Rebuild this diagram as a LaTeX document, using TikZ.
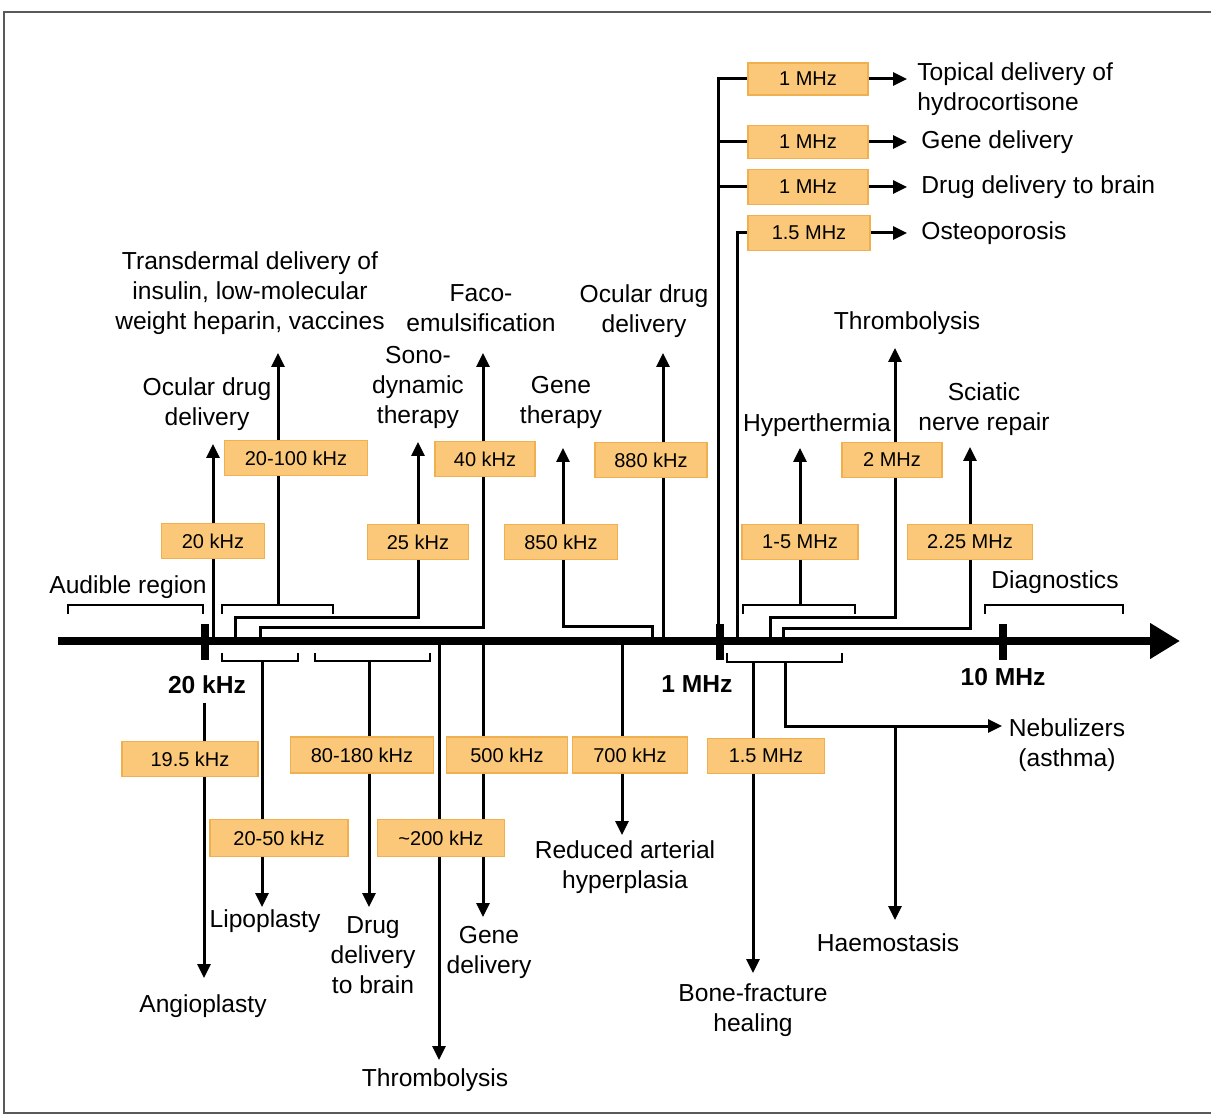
\documentclass[tikz,border=0pt]{standalone}
\usepackage{fontspec}
\setmainfont{Liberation Sans}
\usetikzlibrary{arrows.meta,calc}
\pgfdeclarelayer{bg}
\pgfsetlayers{bg,main}
\definecolor{boxfill}{HTML}{FAC878}
\definecolor{boxline}{HTML}{F0B050}
\begin{document}
\begin{tikzpicture}[x=0.5pt,y=-0.5pt,
  conn/.style={line width=1.5pt},
  arr/.style={conn,-{Triangle[width=6.5pt,length=7pt]}},
  brk/.style={line width=1.3pt},
  fbox/.style={draw=boxline,line width=0.8pt,fill=boxfill,font=\fontsize{10}{12}\selectfont,inner sep=0pt,minimum height=17.5pt},
  lbl/.style={font=\fontsize{12.3}{15}\selectfont,align=center,inner sep=0pt},
  axlbl/.style={font=\fontsize{12.3}{15}\selectfont\bfseries,inner sep=0pt},
  tick/.style={line width=4pt}
]
\useasboundingbox (0,0) rectangle (1211,1117);
\draw[line width=1pt,black!65] (1211,12) -- (4,12) -- (4,1113) -- (1211,1113);

% ---------- boxes ----------
\node[fbox,minimum width=51.5pt] (b1) at (213,541) {20 kHz};
\node[fbox,minimum width=71.5pt] (b2) at (296,458) {20-100 kHz};
\node[fbox,minimum width=50.5pt] (b3) at (418,542) {25 kHz};
\node[fbox,minimum width=50pt] (b4) at (485,459) {40 kHz};
\node[fbox,minimum width=56.5pt] (b5) at (561,542) {850 kHz};
\node[fbox,minimum width=56pt] (b6) at (651,460) {880 kHz};
\node[fbox,minimum width=58pt] (b7) at (800,542) {1-5 MHz};
\node[fbox,minimum width=50pt] (b8) at (892,460) {2 MHz};
\node[fbox,minimum width=62.5pt] (b9) at (970,542) {2.25 MHz};
\node[fbox,minimum width=60pt,minimum height=16pt] (b10) at (808,79) {1 MHz};
\node[fbox,minimum width=60pt,minimum height=16.5pt] (b11) at (808,142) {1 MHz};
\node[fbox,minimum width=60pt] (b12) at (808,187) {1 MHz};
\node[fbox,minimum width=61pt] (b13) at (809,233) {1.5 MHz};
\node[fbox,minimum width=68pt] (b14) at (190,759) {19.5 kHz};
\node[fbox,minimum width=69pt,minimum height=18.5pt] (b15) at (279,838) {20-50 kHz};
\node[fbox,minimum width=71.5pt,minimum height=18pt] (b16) at (362,755) {80-180 kHz};
\node[fbox,minimum width=63.5pt,minimum height=18.5pt] (b17) at (441,838) {\textasciitilde200 kHz};
\node[fbox,minimum width=60.5pt,minimum height=18pt] (b18) at (507,755) {500 kHz};
\node[fbox,minimum width=57.5pt,minimum height=18pt] (b19) at (630,755) {700 kHz};
\node[fbox,minimum width=58.5pt] (b20) at (766,756) {1.5 MHz};

% ---------- labels ----------
\node[lbl] (u1) at (207,404) {Ocular drug\\delivery};
\node[lbl] (u2) at (250,293) {Transdermal delivery of\\insulin, low-molecular\\weight heparin, vaccines};
\node[lbl] (u3) at (418,387) {Sono-\\dynamic\\therapy};
\node[lbl] (u4) at (481,308) {Faco-\\emulsification};
\node[lbl] (u5) at (561,402) {Gene\\therapy};
\node[lbl] (u6) at (644,311) {Ocular drug\\delivery};
\node[lbl] (u7) at (817,425) {Hyperthermia};
\node[lbl] (u8) at (907,323) {Thrombolysis};
\node[lbl] (u9) at (984,409) {Sciatic\\nerve repair};
\node[lbl] (aud) at (128,587) {Audible region};
\node[lbl] (diag) at (1055,582) {Diagnostics};
\node[lbl,align=left,anchor=west] (r1) at (917,89) {Topical delivery of\\hydrocortisone};
\node[lbl,anchor=west] (r2) at (921,142) {Gene delivery};
\node[lbl,anchor=west] (r3) at (921,187) {Drug delivery to brain};
\node[lbl,anchor=west] (r4) at (921,233) {Osteoporosis};
\node[lbl] (d1) at (203,1006) {Angioplasty};
\node[lbl] (d2) at (265,921) {Lipoplasty};
\node[lbl] (d3) at (373,955) {Drug\\delivery\\to brain};
\node[lbl] (d4) at (435,1080) {Thrombolysis};
\node[lbl] (d5) at (489,952) {Gene\\delivery};
\node[lbl] (d6) at (625,867) {Reduced arterial\\hyperplasia};
\node[lbl] (d7) at (753,1010) {Bone-fracture\\healing};
\node[lbl] (d8) at (1067,745) {Nebulizers\\(asthma)};
\node[lbl] (d9) at (888,943) {Haemostasis};
\node[axlbl] (k20) at (207,685) {20 kHz};
\node[axlbl] (m1) at (697,684) {1 MHz};
\node[axlbl] (m10) at (1003,677) {10 MHz};

% ---------- coordinates ----------
\coordinate (oU1) at (213,641); \coordinate (tU1) at (213,444);
\coordinate (oU2) at (278,605); \coordinate (tU2) at (278,353);
\coordinate (oU3) at (235,641); \coordinate (tU3) at (418,442);
\coordinate (oU4) at (260,641); \coordinate (tU4) at (483,353);
\coordinate (oU5) at (652,641); \coordinate (tU5) at (563,448);
\coordinate (oU6) at (663,641); \coordinate (tU6) at (663,353);
\coordinate (oU7) at (718,641);
\coordinate (oU8) at (737,641);
\coordinate (oU9) at (800,605); \coordinate (tU9) at (800,448);
\coordinate (oU10) at (770,641); \coordinate (tU10) at (895,348);
\coordinate (oU11) at (783,641); \coordinate (tU11) at (970,447);
\coordinate (oD1) at (204,703); \coordinate (tD1) at (204,978);
\coordinate (oD2) at (262,661); \coordinate (tD2) at (262,907);
\coordinate (oD3) at (369,661); \coordinate (tD3) at (369,907);
\coordinate (oD4) at (439,641); \coordinate (tD4) at (439,1060);
\coordinate (oD5) at (483,641); \coordinate (tD5) at (483,917);
\coordinate (oD6) at (622,641); \coordinate (tD6) at (622,835);
\coordinate (oD7) at (753,662); \coordinate (tD7) at (753,973);
\coordinate (oD8) at (785,662); \coordinate (tD8) at (1002,726);
\coordinate (jD9) at (895,726); \coordinate (tD9) at (895,920);

\begin{pgfonlayer}{bg}
% upper connectors
\draw[arr] (oU1) -- (tU1);
\draw[arr] (oU2) -- (tU2);
\draw[arr] (oU3) -- ++(0,-23) -| (tU3);
\draw[arr] (oU4) -- ++(0,-13) -| (tU4);
\draw[arr] (oU5) -- ++(0,-14) -| (tU5);
\draw[arr] (oU6) -- (tU6);
\draw[conn] (oU7) |- (b10.west);
\draw[conn] (b11.west -| oU7) -- (b11.west);
\draw[conn] (b12.west -| oU7) -- (b12.west);
\draw[conn] (oU8) |- (b13.west);
\draw[arr] (oU9) -- (tU9);
\draw[arr] (oU10) -- ++(0,-23) -| (tU10);
\draw[arr] (oU11) -- ++(0,-12) -| (tU11);
% lower connectors
\draw[arr] (oD1) -- (tD1);
\draw[arr] (oD2) -- (tD2);
\draw[arr] (oD3) -- (tD3);
\draw[arr] (oD4) -- (tD4);
\draw[arr] (oD5) -- (tD5);
\draw[arr] (oD6) -- (tD6);
\draw[arr] (oD7) -- (tD7);
\draw[arr] (oD8) |- (tD8);
\draw[arr] (jD9) -- (tD9);
\end{pgfonlayer}

% right-hand arrows
\draw[arr] (b10.east) -- ($(r1.west |- b10.east)+(-10,0)$);
\draw[arr] (b11.east) -- ($(r2.west |- b11.east)+(-14,0)$);
\draw[arr] (b12.east) -- ($(r3.west |- b12.east)+(-14,0)$);
\draw[arr] (b13.east) -- ($(r4.west |- b13.east)+(-14,0)$);

% brackets
\draw[brk] (68,614) -- (68,605) -- (203,605) -- (203,614);
\draw[brk] (222,614) -- (222,605) -- (333,605) -- (333,614);
\draw[brk] (743,614) -- (743,605) -- (855,605) -- (855,614);
\draw[brk] (985,614) -- (985,605) -- (1123,605) -- (1123,614);
\draw[brk] (222,653) -- (222,661) -- (298,661) -- (298,653);
\draw[brk] (315,653) -- (315,661) -- (430,661) -- (430,653);
\draw[brk] (727,653) -- (727,662) -- (842,662) -- (842,653);

% axis
\draw[line width=4pt,-{Triangle[width=17pt,length=15pt]}] (58,641) -- (1180,641);
\draw[tick] (205,624) -- (205,660);
\draw[tick] (720,624) -- (720,660);
\draw[tick] (1003,624) -- (1003,660);
\end{tikzpicture}
\end{document}
